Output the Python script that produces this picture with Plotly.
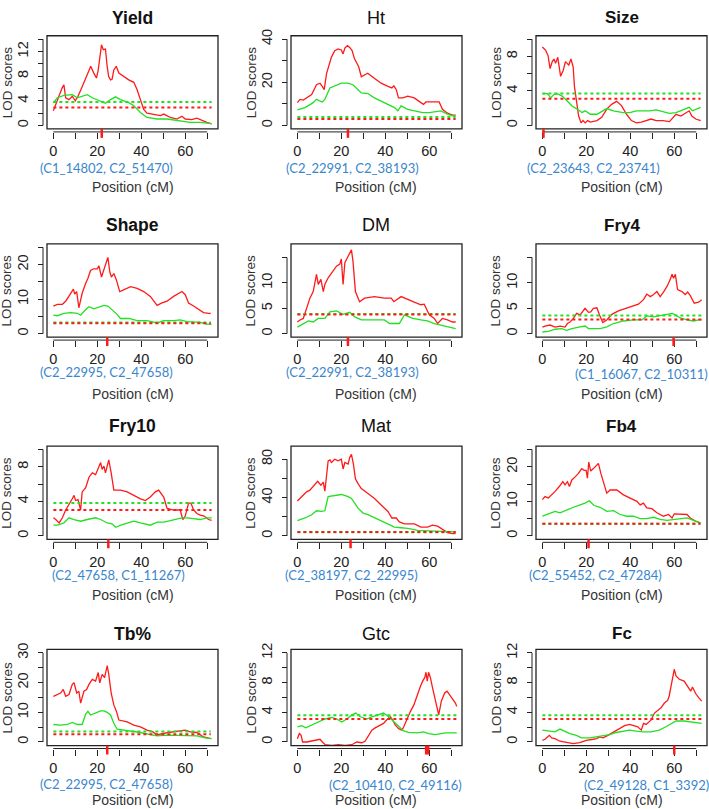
import plotly.graph_objects as go

# ---------------- data ----------------
TRAITS = ["Yield", "Ht", "Size", "Shape", "DM", "Fry4",
          "Fry10", "Mat", "Fb4", "Tb%", "Gtc", "Fc"]
MARKER_LABELS = ["(C1_14802, C2_51470)", "(C2_22991, C2_38193)", "(C2_23643, C2_23741)",
                 "(C2_22995, C2_47658)", "(C2_22991, C2_38193)", "(C1_16067, C2_10311)",
                 "(C2_47658, C1_11267)", "(C2_38197, C2_22995)", "(C2_55452, C2_47284)",
                 "(C2_22995, C2_47658)", "(C2_10410, C2_49116)", "(C2_49128, C1_3392)"]
QTL_POS = [[22], [23], [0.5], [24.5], [23], [59.7], [25], [24.2], [21], [24.5], [58.6, 59.5], [60]]
THR_RED = [2.9, 3.0, 3.1, 3.0, 3.8, 2.8, 3.0, 4.0, 3.5, 2.6, 3.1, 3.1]
THR_GREEN = [3.8, 3.9, 3.7, 3.2, 3.85, 3.6, 3.8, 3.9, 3.55, 3.5, 3.6, 3.6]
Y_MAX = [14, 40, 10, 25, 17, 17, 10, 90, 25, 30, 12, 12]
Y_STEP = [2, 10, 2, 5, 5, 5, 2, 20, 5, 5, 2, 2]
Y_LABEL_STEP = [4, 20, 4, 10, 5, 5, 4, 40, 10, 10, 4, 4]
Y_LABEL_MAX = [12, 40, 8, 20, 10, 10, 8, 80, 20, 30, 12, 12]
X_TICKS = [0, 10, 20, 30, 40, 50, 60, 70]
X_LABELED = [0, 20, 40, 60]

YIELD_RED = [(0,2.4),(2.6,5.0),(4,6.1),(4.8,6.6),(5.6,4.5),(7.1,4.2),(8.6,4.75),(10,4.0),(11.2,4.75),(13.1,6.3),(14.7,7.7),(16.2,9.2),(17,9.6),(18.4,8.5),(19.6,7.7),(20.4,9.0),(21.2,11.6),(21.9,13.1),(22.7,12.3),(23.7,12.4),(24.5,9.5),(25.2,7.9),(26,7.4),(26.7,7.5),(27.5,9.0),(28.6,9.6),(29.8,8.5),(32,7.9),(34.3,7.4),(36.6,7.0),(38.1,5.8),(39.6,4.2),(41.1,2.6),(42.6,2.0),(45.6,1.85),(48.7,1.6),(50.2,1.85),(53.2,1.3),(56.2,1.05),(58.5,1.5),(60,1.05),(63,0.95),(65.3,1.2),(67.6,0.8),(69.8,0.5),(72,0.26)]
YIELD_GREEN = [(0,3.7),(1.8,4.5),(4.8,4.9),(8.6,5.0),(10.9,4.5),(13.1,4.75),(15.4,5.0),(17.7,4.5),(21.5,4.0),(23.7,3.6),(26,4.2),(28.3,4.65),(30.5,4.2),(34.3,3.7),(36.6,3.2),(39.6,2.1),(42.6,1.3),(47.2,1.05),(51.7,1.05),(57.7,0.8),(62.2,0.5),(66.8,0.5),(69.8,0.42),(72,0.3)]

HT_RED = [(0,10.6),(1.2,12.1),(2.7,11.8),(4.2,12.8),(6.5,14.3),(8.7,18.9),(10.3,19.6),(11.3,18.1),(12.2,16.6),(13.3,24.2),(15.5,31.7),(17,34.7),(18.5,35.5),(20,35),(20.8,33.2),(21.6,35.9),(22.8,37),(23.8,36.2),(24.9,34.7),(26,30.9),(27.9,27.2),(29.1,22.6),(32,24.2),(35,21.9),(38.1,19.6),(41.2,18.1),(43,17.4),(43.9,18.4),(45,16.6),(46,12.8),(48,12.8),(50.2,13.6),(53.2,12.8),(56.2,10.6),(57.4,9.8),(58.5,10.9),(62.3,10.9),(64.5,10.9),(66,7.5),(68.3,5.7),(70.6,4.8),(72,4.8)]
HT_GREEN = [(0,7.2),(3.5,8.3),(7.2,10.6),(8.7,12.1),(11.3,10.9),(12.5,12.1),(14.8,17.4),(17,18.4),(20,19.6),(23,19.6),(25.3,18.9),(27.6,16.6),(29.1,15.1),(32.1,14.8),(35,12.8),(38.1,11.3),(41.2,9.8),(44.2,8.3),(45.7,6.8),(47.2,9.1),(50.2,7.5),(54,6.8),(57,6.0),(60,6.0),(62.3,6.3),(65.3,6.8),(68.3,5.3),(70.6,4.5),(72,4.5)]

SIZE_RED = [(0,9.1),(1.5,8.7),(2.6,8.1),(3.5,6.6),(4.5,7.4),(5.3,7.7),(6,7.2),(7,7.9),(8.3,5.7),(9.5,6.4),(10.5,7.4),(12,7.0),(13,7.7),(14,6.8),(14.6,4.5),(15.5,3.0),(16.5,1.1),(17.6,0.3),(18.5,0.57),(19.5,0.3),(20.6,0.57),(21.8,0.4),(24.8,0.57),(27,0.94),(29.3,1.9),(31.5,2.45),(33.8,2.8),(36,2.3),(38.3,1.3),(40.5,0.57),(42.8,0.3),(45,0.38),(47.3,0.57),(49.5,0.75),(51.8,0.57),(54.8,0.57),(57.8,0.45),(59.6,0.94),(60.8,1.3),(63,1.1),(65.3,1.5),(66.8,1.7),(68,1.1),(69.8,0.75),(72,0.57)]
SIZE_GREEN = [(0,3.7),(2.3,3.7),(3.8,3.2),(5.3,3.6),(7,3.66),(9,3.4),(11.3,2.83),(13.5,2.26),(15.8,1.9),(18,1.5),(19.5,1.7),(21.8,1.3),(24.8,1.3),(27,1.6),(29.3,1.96),(32.3,1.7),(36.8,1.5),(39.8,1.5),(42.8,1.7),(48.8,1.7),(51.8,1.8),(54.8,1.6),(57.8,1.4),(60.8,1.5),(63.8,1.8),(66.8,2.1),(68.3,1.7),(70.5,1.9),(72,2.1)]

SHAPE_RED = [(0,8.0),(1.8,8.5),(4.1,8.5),(5.6,9.4),(7.9,11.7),(9.1,12.9),(9.7,11.5),(10.6,12.2),(11.6,7.5),(13.1,11.7),(14.7,14.6),(15.7,16.0),(16.9,18.3),(18.4,18.8),(20,18.8),(20.7,19.7),(21.9,16.4),(23,18.8),(24.2,21.1),(24.8,22.1),(25.7,17.8),(26.4,16.4),(27.5,17.4),(28.7,15.5),(30.2,12.2),(32,12.7),(35.1,13.6),(38.1,13.1),(41.1,12.2),(44.1,10.8),(46.4,8.9),(47.2,8.2),(49.4,8.9),(51.7,9.4),(54.7,10.8),(57.4,11.9),(58.5,12.2),(60,11.3),(61.5,8.9),(63.8,8.0),(66.8,6.6),(68.3,6.1),(70.6,5.9),(71.6,5.9)]
SHAPE_GREEN = [(0,5.35),(1.8,5.2),(4.8,5.9),(7.9,6.1),(10.9,5.9),(12.4,5.35),(14.7,7.0),(16.2,7.8),(18.4,7.2),(20.7,7.8),(23,8.2),(24.8,8.0),(26.7,7.0),(29,5.6),(30.5,4.4),(34.3,4.4),(38.1,3.76),(42.6,3.76),(47.2,3.1),(50.2,3.76),(54.7,3.76),(57.7,4.0),(60.8,3.5),(63.8,3.3),(66.8,3.3),(69.8,2.8),(72,2.7)]

DM_RED = [(0,2.3),(1.2,2.7),(2.7,3.0),(4.2,5.0),(5.7,7.0),(7.2,8.3),(8,10),(8.7,11.7),(9.5,9.7),(10.7,10.7),(11.8,8.3),(12.5,9.7),(14,11),(16.3,12.3),(17.8,13.3),(19.3,13.7),(20,14.7),(20.8,9.7),(21.6,14),(22.8,15),(23.8,15.7),(24.6,16.5),(25.3,14.3),(26.4,8.3),(28.3,6.3),(30.6,7.0),(35.1,7.3),(39.6,7.0),(42.7,7.0),(43.9,6.3),(47.2,7.3),(50.2,6.7),(53.2,6.2),(56.2,5.7),(57.7,5.8),(60,3.7),(62.3,3.0),(63.8,2.0),(66,3.0),(68.3,2.7),(70.6,2.3),(72,2.3)]
DM_GREEN = [(0,1.3),(2,1.8),(5,2.5),(7.2,2.3),(9.5,3.0),(12.5,3.0),(14.8,4.3),(17.8,4.5),(20.8,3.8),(23.8,4.2),(26.1,3.3),(29.1,2.7),(35.1,2.7),(39.6,2.7),(41.9,2.0),(46.4,2.0),(48.7,3.7),(52.5,3.0),(56.2,2.7),(59.2,2.5),(62.3,2.0),(66.8,1.5),(71.3,1.0),(72,1.0)]

FRY4_RED = [(0,1.3),(1.2,1.5),(3.5,1.7),(5.8,1.3),(8.1,1.5),(10.3,1.3),(11.4,2.0),(12.6,2.3),(14.1,3.0),(15.6,4.0),(17.2,3.7),(19.4,5.0),(21,4.2),(22,4.3),(23.2,5.0),(24.8,5.1),(26,3.7),(27.5,2.2),(29.3,2.7),(31.6,3.8),(34.6,4.5),(37.7,4.9),(40.7,5.3),(43.7,5.8),(46,6.7),(47.5,7.8),(49.1,7.3),(50.6,7.7),(52.1,8.3),(53.6,7.3),(55.1,8.2),(56.7,9.3),(58.2,10.7),(59,11.7),(59.7,10.9),(60.5,11.7),(61.5,8.7),(63.5,8.3),(65,7.7),(66.1,8.2),(67.3,7.5),(69.1,6.0),(71.1,6.2),(72.5,6.7)]
FRY4_GREEN = [(0,0.33),(2.7,0.47),(5.8,0.87),(8.8,1.0),(11.1,0.67),(13.4,1.0),(17.2,1.33),(19.4,1.5),(21,1.0),(26.3,1.0),(29.3,1.33),(32.4,2.0),(36.9,2.5),(41.5,2.7),(45.3,2.7),(47.5,3.5),(50.6,3.3),(53.6,3.5),(56.7,3.7),(59,4.0),(60.5,3.7),(62.7,3.1),(65.8,2.7),(68.8,2.5),(71.1,2.7),(72.5,2.7)]

FRY10_RED = [(0,2.1),(1.1,1.9),(2.6,1.5),(4.1,2.1),(5.6,3.0),(7.1,3.6),(8.6,4.3),(9.4,4.7),(10.1,4.1),(11.2,4.2),(12.4,3.0),(13.1,5.1),(14.7,5.6),(16.2,6.8),(17.7,7.3),(19.2,7.1),(20.7,8.1),(21.5,8.5),(22.2,7.7),(23,8.1),(23.7,7.3),(24.5,8.1),(25.2,8.8),(26.3,7.3),(27.5,5.3),(30.5,5.3),(33.6,5.1),(36.6,4.7),(39.6,4.3),(41.9,4.1),(44.1,4.5),(46.4,5.1),(47.9,5.3),(50.2,4.5),(51.7,3.2),(54.7,3.0),(57.7,3.0),(58.9,1.9),(60,2.3),(61.5,3.8),(62.6,3.8),(63.8,3.0),(65.3,2.6),(66.8,2.4),(68.6,2.3),(70.6,1.9),(72,1.8)]
FRY10_GREEN = [(0,1.24),(1.8,1.24),(4.8,1.5),(7.1,2.1),(9.4,1.9),(12.4,1.7),(15.4,1.9),(19.2,2.1),(21.5,1.9),(24.5,1.5),(26.7,1.4),(28.3,1.0),(31.3,1.3),(34.3,1.5),(36.6,1.7),(39.6,1.5),(44.1,1.24),(47.2,1.6),(50.2,1.6),(53.2,1.77),(56.2,2.0),(58.5,2.1),(60.8,2.1),(63.8,2.0),(66.8,1.9),(69.8,2.1),(72,2.1)]

MAT_RED = [(0,36.4),(2,40.9),(4.2,46),(5.7,47.7),(8,54.5),(9.2,56.9),(10.7,52.8),(11.8,56.2),(12.5,46.6),(13.3,61.3),(14,78.3),(14.8,79.3),(15.5,76.6),(17,80),(18.5,78.3),(20,80),(20.8,69.8),(21.6,76.6),(23.1,74.9),(23.8,81.7),(24.6,85.1),(25.5,74.9),(26.4,59.6),(27.6,54.5),(29.1,49.4),(32.1,44.3),(35.1,39.1),(38.1,32.3),(41.2,25.5),(43,18.7),(45,18.7),(46.4,14.6),(48.7,12.6),(53.2,12.6),(56.2,9.2),(59.2,9.2),(61.5,11.2),(63.8,10.2),(66,6.8),(68.3,3.4),(70.6,2.4),(72,2.4)]
MAT_GREEN = [(0,16),(3.5,18.7),(6.5,22.1),(8.7,26.2),(11,25.5),(12.5,26.2),(14,40.9),(17,41.9),(20,43.2),(23.1,40.9),(24.6,39.1),(27.6,28.9),(29.9,23.8),(32.1,22.1),(35.1,18.7),(38.1,15.3),(41.2,11.9),(44.2,9.2),(47.2,8.5),(50.2,7.8),(54.8,5.8),(59.2,5.1),(63.8,5.1),(68.3,4.4),(72,4.1)]

FB4_RED = [(0,10.5),(1.2,11.4),(2.7,11),(4.3,11.9),(5.8,12.9),(7.7,14.3),(9.3,15.7),(10.3,14.8),(11.4,15.7),(12.3,14.3),(13.4,16.2),(14.9,17.1),(16.4,18.1),(17.9,19.5),(19,19),(19.9,19),(20.5,16.7),(21.1,21.4),(22,18.8),(23.2,19.5),(24.5,20.5),(25.5,21),(26.6,18.1),(27.8,15.2),(29.3,12.4),(30.8,13.3),(33.9,13.3),(36.9,11.9),(39.9,11),(43,10),(44.5,9),(46,9.5),(47.5,8.1),(49.8,7.9),(52.1,6.7),(55.1,5.7),(57.4,6.2),(59,5.2),(60,6.4),(62.7,6.4),(65.8,6.2),(67.3,5.2),(69.6,4.3),(71.9,3.8)]
FB4_GREEN = [(0,5.7),(2.7,6.4),(5.8,7.1),(8.1,6.7),(11.1,7.6),(14.1,8.3),(17.2,9.0),(19.4,9.5),(21.4,10.2),(23.5,8.8),(26.3,8.3),(29.3,7.1),(32.4,7.3),(35.4,6.2),(38.4,5.7),(41.5,5.7),(44.5,5.0),(47.5,5.0),(50.6,5.4),(53.6,4.8),(56.7,4.5),(59.7,4.8),(62.7,5.0),(65.8,5.2),(68.8,4.5),(71.9,3.8)]

TB_RED = [(0,15.4),(1.8,16),(3.3,16.5),(4.5,17.7),(5.6,15.4),(7.1,16),(8.6,19.4),(9.4,20),(10.6,16.5),(11.6,17.1),(12.4,13.1),(13.9,17.1),(15.1,17.7),(16.2,19.4),(17.7,21.1),(19.2,20.5),(20.4,23.4),(21.1,19.9),(22.2,22.8),(23.3,21.7),(24.5,25.7),(25.2,22.8),(26.3,16.5),(27.5,12.5),(28.7,10.3),(29.8,7.4),(33.6,6.8),(36.6,5.7),(39.6,5.1),(42.6,4.0),(45.3,3.4),(47.2,2.3),(49.4,2.85),(52.4,3.2),(56.2,3.65),(60,4.0),(62.3,3.4),(65.3,3.2),(68.3,1.7),(70.6,1.1),(71.6,1.1)]
TB_GREEN = [(0,5.9),(3.3,5.7),(6.3,5.9),(8.6,6.6),(10.9,5.9),(13.1,5.9),(14.7,9.4),(15.7,10.3),(16.9,9.1),(19.2,9.7),(21.5,10.5),(23,10.5),(24.5,10.0),(26,9.1),(27.5,6.3),(29,4.3),(32,4.0),(35.1,3.65),(39.6,3.2),(44.1,2.5),(47.2,2.05),(51.7,2.3),(56.2,2.3),(60.8,2.3),(65.3,2.05),(69.1,1.4),(72,1.1)]

GTC_RED = [(0,0.45),(0.9,1.14),(1.7,0.9),(2.4,0),(4.3,0),(6.5,0.1),(8.8,0.23),(10.3,0.37),(11.4,0),(12.6,-0.37),(15.7,-0.46),(18.7,-0.37),(21.7,-0.46),(24.8,-0.37),(27,0),(29.3,-0.1),(30.8,0.1),(32.4,0.9),(33.9,1.6),(35.4,1.9),(37.7,2.2),(39.2,2.5),(40.7,3.0),(42.3,3.4),(43.3,3.0),(44.5,2.3),(46.1,1.8),(47.6,1.6),(48.4,2.05),(49.9,3.2),(51.4,4.1),(53,5.0),(54.5,6.4),(56,7.5),(57,8.2),(58,8.7),(58.5,9.4),(59.1,8.2),(59.7,9.4),(60.5,8.7),(61.5,7.3),(62.8,5.5),(64.3,3.65),(65.5,5.5),(67,6.6),(68.1,6.85),(69.6,6.2),(71.9,5.25),(72.5,4.8)]
GTC_GREEN = [(0,2.05),(2,2.2),(3.8,1.9),(6.5,2.3),(9.6,2.7),(12.6,3.1),(15.7,3.3),(17.9,3.1),(20.2,2.7),(22.5,3.1),(24.8,3.65),(26.6,3.9),(28.6,3.4),(31.6,3.1),(33.9,3.4),(36.9,3.7),(39.2,3.9),(41.5,3.4),(43.8,2.8),(46.1,2.2),(48.4,1.5),(50.6,1.3),(54.4,1.23),(57.4,1.37),(59.7,1.14),(62.8,1.0),(67.3,1.23),(72.5,1.23)]

FC_RED = [(0,0.23),(1.2,0.37),(2.3,0.68),(3.2,0.9),(4.2,0.55),(5.7,0.46),(8,0.1),(11,-0.1),(14,-0.23),(17,-0.1),(20,0.23),(23.1,0.37),(24.6,0.46),(26.1,0.68),(27.6,0.55),(29.8,0.9),(32.1,1.28),(35.1,1.83),(37.4,2.2),(39.7,2.37),(41.9,2.2),(43.4,2.05),(45,1.6),(46,2.5),(47.2,2.37),(48.4,2.65),(49.5,2.97),(51,3.9),(52.5,4.3),(54,4.6),(55.5,5.25),(57,5.6),(57.7,6.2),(58.5,7.3),(59.2,8.45),(60,9.8),(60.8,8.9),(62.3,8.45),(64.5,8.2),(66,7.5),(67.5,6.85),(68.3,7.4),(69.8,6.5),(71.3,5.9),(72.5,5.5)]
FC_GREEN = [(0,1.6),(2.7,1.46),(5.7,1.37),(8,1.74),(10.3,1.46),(12.5,1.14),(15.5,0.9),(17.8,0.55),(21.6,0.55),(24.6,0.68),(27.6,0.82),(30.6,1.0),(33.6,1.28),(36.6,1.46),(39.7,1.6),(42.7,1.46),(45.7,1.37),(49.4,1.37),(53.2,1.6),(56.2,2.05),(58.5,2.5),(60.8,2.83),(64.5,2.83),(67.5,2.74),(69.8,2.65),(72.5,2.5)]

RED_CURVES = [YIELD_RED, HT_RED, SIZE_RED, SHAPE_RED, DM_RED, FRY4_RED,
              FRY10_RED, MAT_RED, FB4_RED, TB_RED, GTC_RED, FC_RED]
GREEN_CURVES = [YIELD_GREEN, HT_GREEN, SIZE_GREEN, SHAPE_GREEN, DM_GREEN, FRY4_GREEN,
                FRY10_GREEN, MAT_GREEN, FB4_GREEN, TB_GREEN, GTC_GREEN, FC_GREEN]

# ---------------- layout (pixels) ----------------
W, H = 709, 809
COL_X = [(47, 218), (291, 462), (536, 707)]
ROW_Y = [(29, 123), (239, 333), (443, 537), (648, 745)]
ROW_POS_TITLE = [59, 57, 56, 55]
ROW_TITLE_GAP = [18, 19, 20, 16]
BLUE_XY = [(107, 162), (352, 162), (593, 162),
           (107, 368), (352, 368), (641, 370),
           (118, 573), (351, 573), (595, 573),
           (107, 784), (395, 785), (646, 785)]
TITLE_STYLE = [dict(weight="bold", size=17.5), dict(weight="normal", size=18), dict(weight="bold", size=17)]

RED = "#ff1a1a"
GREEN = "#22e022"
INK = "#222222"
AXFONT = "Liberation Sans, Arial, sans-serif"

def fx(px):
    return px / W

def fy(py):
    return 1 - py / H

fig = go.Figure()
shapes = []
annotations = []
layout = {}

for i, trait in enumerate(TRAITS):
    r, c = divmod(i, 3)
    n = i + 1
    xa = "x" if n == 1 else f"x{n}"
    ya = "y" if n == 1 else f"y{n}"
    xk = "xaxis" if n == 1 else f"xaxis{n}"
    yk = "yaxis" if n == 1 else f"yaxis{n}"
    L, R = COL_X[c]
    T, B = ROW_Y[r]

    red = RED_CURVES[i]
    green = GREEN_CURVES[i]
    fig.add_trace(go.Scatter(x=[p[0] for p in red], y=[p[1] for p in red], mode="lines",
                             line=dict(color=RED, width=1.3), xaxis=xa, yaxis=ya,
                             showlegend=False, hoverinfo="skip"))
    fig.add_trace(go.Scatter(x=[p[0] for p in green], y=[p[1] for p in green], mode="lines",
                             line=dict(color=GREEN, width=1.3), xaxis=xa, yaxis=ya,
                             showlegend=False, hoverinfo="skip"))
    xs = [p[0] for p in red]
    xext = [min(xs), max(xs)]
    fig.add_trace(go.Scatter(x=xext, y=[THR_GREEN[i]] * 2, mode="lines",
                             line=dict(color=GREEN, width=2, dash="dot"), xaxis=xa, yaxis=ya,
                             showlegend=False, hoverinfo="skip"))
    fig.add_trace(go.Scatter(x=xext, y=[THR_RED[i]] * 2, mode="lines",
                             line=dict(color=RED, width=2, dash="dot"), xaxis=xa, yaxis=ya,
                             showlegend=False, hoverinfo="skip"))

    ymax = Y_MAX[i]
    step = Y_STEP[i]
    yticks = []
    v = 0
    while v <= 1.04 * ymax + 1e-9:
        yticks.append(v)
        v += step
    ytext = [str(t) if (t % Y_LABEL_STEP[i] == 0 and t <= Y_LABEL_MAX[i]) else "" for t in yticks]

    xpos = fy(B + 3)
    ypos = fx(L - 4)
    layout[xk] = dict(domain=[fx(L), fx(R)], range=[-2.9, 74.9], anchor="free", position=xpos,
                      showgrid=False, zeroline=False, showline=False,
                      ticks="outside", ticklen=6, tickwidth=1, tickcolor=INK,
                      tickvals=X_TICKS, ticktext=[str(t) if t in X_LABELED else "" for t in X_TICKS],
                      tickfont=dict(family=AXFONT, size=14.5, color=INK), ticklabelstandoff=0,
                      fixedrange=True)
    layout[yk] = dict(domain=[fy(B), fy(T)], range=[-0.04 * ymax, 1.04 * ymax], anchor="free",
                      position=ypos, showgrid=False, zeroline=False, showline=False,
                      ticks="outside", ticklen=5, tickwidth=1, tickcolor=INK,
                      tickvals=yticks, ticktext=ytext, tickangle=-90,
                      tickfont=dict(family=AXFONT, size=14.5, color=INK), ticklabelstandoff=4,
                      fixedrange=True)

    # box
    shapes.append(dict(type="rect", xref=f"{xa} domain", yref=f"{ya} domain", x0=0, x1=1, y0=0, y1=1,
                       line=dict(color=INK, width=1.3), layer="above"))
    # detached axis lines (first to last tick)
    shapes.append(dict(type="line", xref=xa, yref="paper", x0=X_TICKS[0], x1=X_TICKS[-1],
                       y0=xpos, y1=xpos, line=dict(color=INK, width=1)))
    shapes.append(dict(type="line", xref="paper", yref=ya, x0=ypos, x1=ypos,
                       y0=yticks[0], y1=yticks[-1], line=dict(color=INK, width=1)))
    # QTL markers
    for q in QTL_POS[i]:
        shapes.append(dict(type="line", xref=xa, yref="paper", x0=q, x1=q,
                           y0=fy(B), y1=fy(B + 9), line=dict(color=RED, width=2.5)))

    # titles and labels
    ts = TITLE_STYLE[c]
    annotations.append(dict(text=trait, xref="paper", yref="paper", x=fx((L + R) / 2),
                            y=fy(T - ROW_TITLE_GAP[r]),
                            xanchor="center", yanchor="middle", showarrow=False,
                            font=dict(family=AXFONT, size=ts["size"], weight=ts["weight"], color="#111")))
    annotations.append(dict(text="LOD scores", xref="paper", yref="paper", x=fx(L - 40), y=fy((T + B) / 2),
                            xanchor="center", yanchor="middle", showarrow=False, textangle=-90,
                            font=dict(family=AXFONT, size=13.5, color="#333")))
    annotations.append(dict(text="Position (cM)", xref="paper", yref="paper", x=fx((L + R) / 2),
                            y=fy(B + ROW_POS_TITLE[r]), xanchor="center", yanchor="middle", showarrow=False,
                            font=dict(family=AXFONT, size=14, color="#333")))
    bx, by = BLUE_XY[i]
    annotations.append(dict(text=MARKER_LABELS[i], xref="paper", yref="paper", x=fx(bx), y=fy(by),
                            xanchor="center", yanchor="middle", showarrow=False,
                            font=dict(family="Lato, Noto Sans, sans-serif", size=13, color="#3a86cc")))

fig.update_layout(width=W, height=H, margin=dict(l=0, r=0, t=0, b=0),
                  paper_bgcolor="white", plot_bgcolor="white",
                  shapes=shapes, annotations=annotations, **layout)

fig.write_html("out.html", config={"displayModeBar": False},
               post_script="document.body.style.margin='0';document.body.style.overflow='hidden';")
